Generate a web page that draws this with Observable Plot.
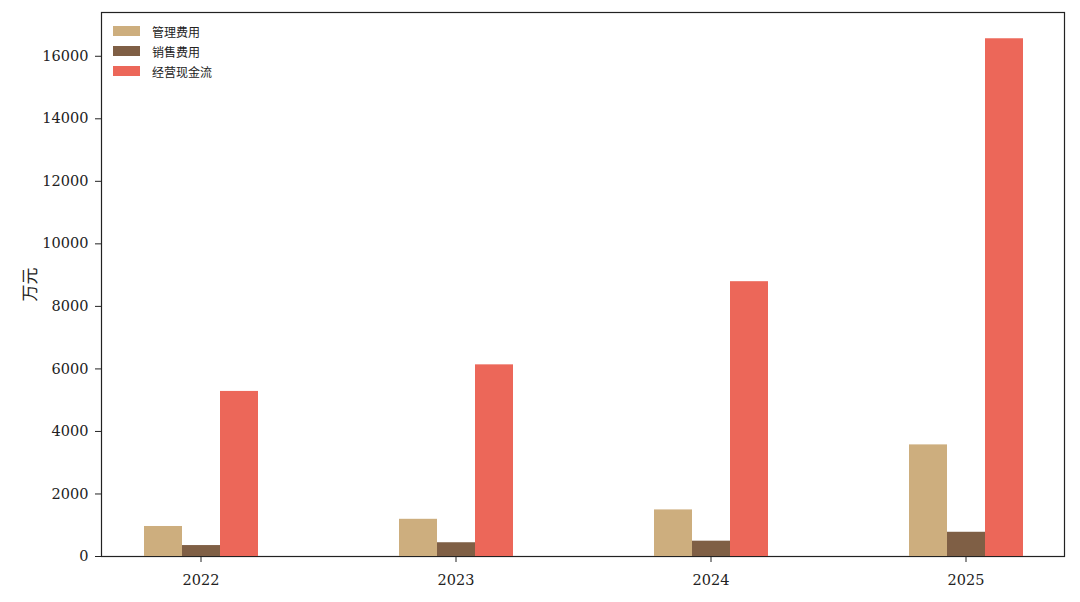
<!DOCTYPE html>
<html>
<head>
<meta charset="utf-8">
<script src="https://cdn.jsdelivr.net/npm/d3@7"></script>
<script src="https://cdn.jsdelivr.net/npm/@observablehq/plot@0.6"></script>
<style>
  html, body { margin: 0; padding: 0; background: #fff; }
  #wrap { position: relative; width: 1080px; height: 602px; }
  #wrap svg { position: absolute; left: 0; top: 0; }
  #legend { position: absolute; left: 113px; top: 21px; font-family: "Noto Sans CJK SC", "Noto Sans", sans-serif; font-size: 12px; color: #222; }
  #legend .row { display: flex; align-items: center; height: 20px; }
  #legend .sw { width: 27px; height: 10px; margin-right: 12px; }
</style>
</head>
<body>
<div id="wrap"><div id="legend"></div></div>
<script>
const years = ["2022", "2023", "2024", "2025"];
const series = ["管理费用", "销售费用", "经营现金流"];
const adminCost = [960, 1190, 1490, 3570];
const salesCost = [350, 440, 490, 775];
const operatingCash = [5280, 6130, 8790, 16560];
const colors = ["#CDAE7E", "#7F5F45", "#EC6759"];
const yTicks = [0, 2000, 4000, 6000, 8000, 10000, 12000, 14000, 16000];
const yLabel = "万元";

const valuesBySeries = [adminCost, salesCost, operatingCash];
const data = years.flatMap((yr, i) => series.map((s, j) => ({year: yr, series: s, value: valuesBySeries[j][i]})));

const common = {
  width: 1080,
  height: 602,
  marginLeft: 101,
  marginRight: 16,
  marginTop: 12,
  marginBottom: 46,
  style: {fontFamily: "'DejaVu Serif', 'Noto Sans CJK SC', serif", fontSize: "14.5px", color: "#222", background: "transparent", overflow: "visible"}
};
const yScale = {domain: [0, 17400], label: null};

// base layer: frame + y axis
const base = Plot.plot({
  ...common,
  style: {...common.style, background: "#fff"},
  x: {axis: null},
  y: yScale,
  marks: [
    Plot.frame({stroke: "#222", strokeWidth: 1.2}),
    Plot.axisY({ticks: yTicks, tickFormat: d3.format("d"), tickSize: 6, tickPadding: 7, label: null, fontSize: 14.5}),
    Plot.axisY({ticks: [], tickSize: 0, label: yLabel, labelAnchor: "center", labelArrow: "none", labelOffset: 78, fontSize: 17})
  ]
});

// bars layer: faceted by year, dodged by series
const bars = Plot.plot({
  ...common,
  fx: {domain: years, paddingInner: 0.55, paddingOuter: 0.16, label: null},
  x: {domain: series, padding: 0, axis: null},
  y: {...yScale, axis: null},
  color: {domain: series, range: colors},
  marks: [
    Plot.barY(data, {fx: "year", x: "series", y: "value", fill: "series", insetLeft: 0, insetRight: 0}),
    Plot.axisFx({anchor: "bottom", tickSize: 6, tickPadding: 12, label: null, fontSize: 14.5})
  ]
});

const wrap = document.getElementById("wrap");
wrap.prepend(bars);
wrap.prepend(base);

const legend = document.getElementById("legend");
series.forEach((s, i) => {
  const row = document.createElement("div");
  row.className = "row";
  const sw = document.createElement("div");
  sw.className = "sw";
  sw.style.background = colors[i];
  const t = document.createElement("span");
  t.textContent = s;
  row.append(sw, t);
  legend.append(row);
});
</script>
</body>
</html>
